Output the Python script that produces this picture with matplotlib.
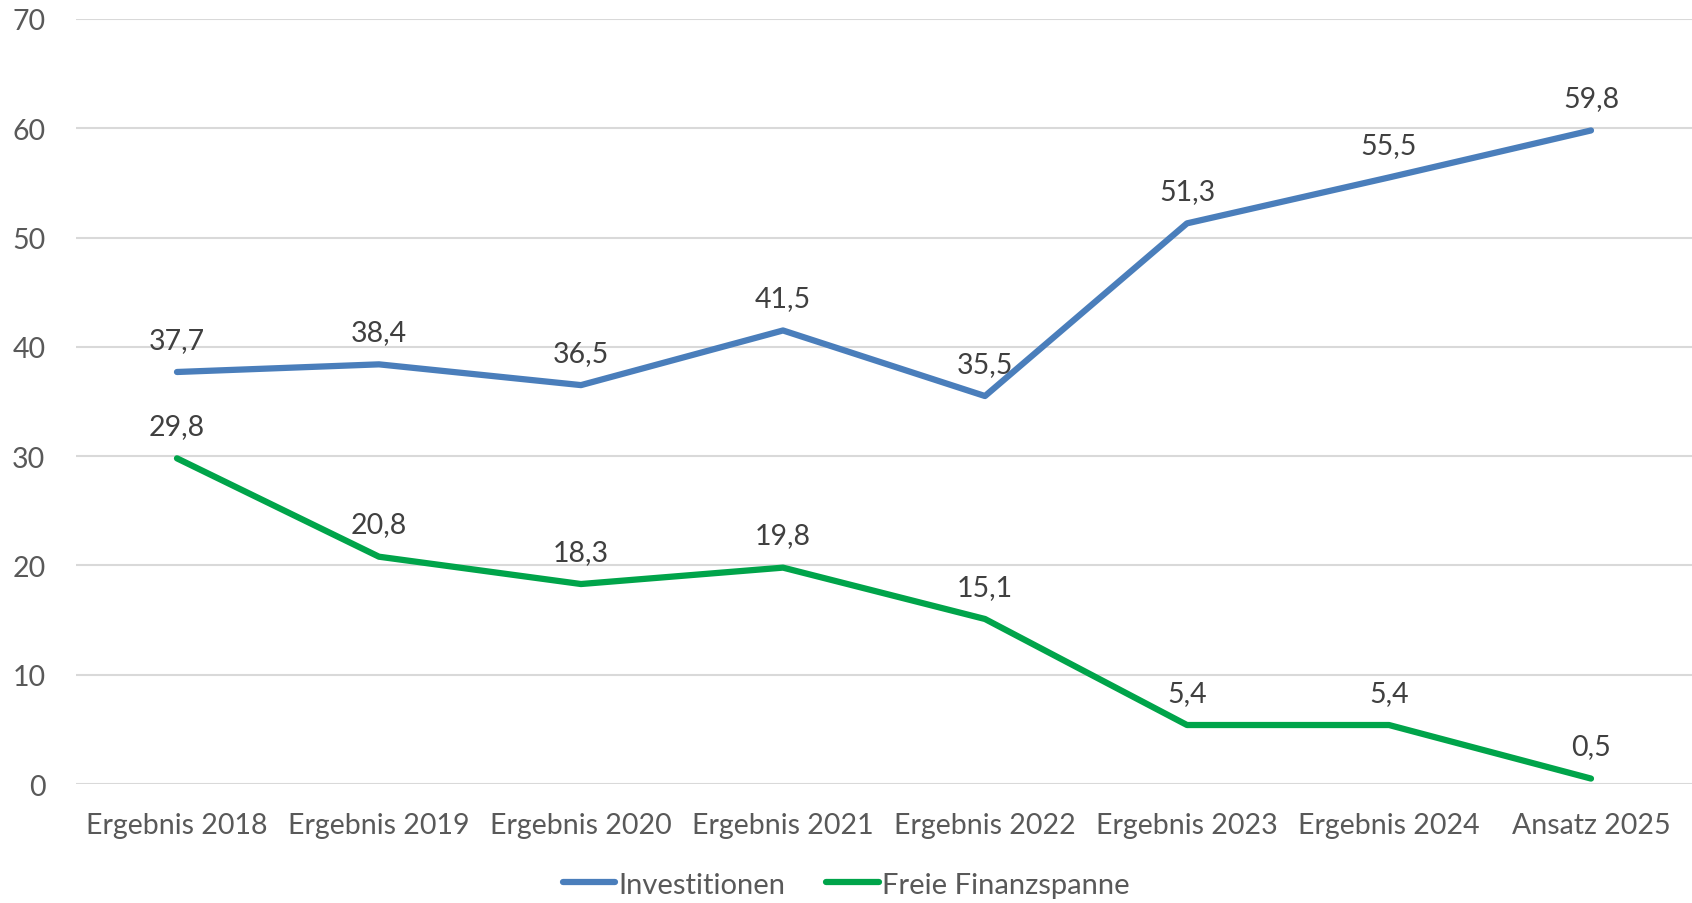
import matplotlib
matplotlib.use('Agg')
import matplotlib.pyplot as plt

plt.rcParams['font.family'] = ['Lato', 'DejaVu Sans']

categories = ['Ergebnis 2018', 'Ergebnis 2019', 'Ergebnis 2020', 'Ergebnis 2021',
              'Ergebnis 2022', 'Ergebnis 2023', 'Ergebnis 2024', 'Ansatz 2025']
investitionen = [37.7, 38.4, 36.5, 41.5, 35.5, 51.3, 55.5, 59.8]
finanzspanne = [29.8, 20.8, 18.3, 19.8, 15.1, 5.4, 5.4, 0.5]

blue = '#4a7ebb'
green = '#00a44a'

fig = plt.figure(figsize=(16.92, 9.04), dpi=100)
ax = fig.add_axes([0.0449, 0.1316, 0.9551, 0.8463])

x = range(len(categories))
ax.plot(x, investitionen, color=blue, lw=4.5, solid_capstyle='round', label='Investitionen')
ax.plot(x, finanzspanne, color=green, lw=4.5, solid_capstyle='round', label='Freie Finanzspanne')

for series in (investitionen, finanzspanne):
    for i, v in enumerate(series):
        ax.annotate(f'{v:.1f}'.replace('.', ','), (i, v), xytext=(0, 14),
                    textcoords='offset points', ha='center', va='bottom',
                    fontsize=20.5, color='#404040')

ax.set_xlim(-0.5, len(categories) - 0.5)
ax.set_ylim(0, 70)
ax.set_yticks(range(0, 71, 10))
ax.set_xticks(list(x))
ax.set_xticklabels(categories)
ax.grid(axis='y', color='#d9d9d9', lw=1.5)
ax.set_axisbelow(True)
for s in ax.spines.values():
    s.set_visible(False)
ax.tick_params(length=0, labelsize=20.5, labelcolor='#595959')
ax.tick_params(axis='y', pad=22)
ax.tick_params(axis='x', pad=20)

fig.legend(loc='lower center', bbox_to_anchor=(0.5, -0.023), ncol=2, frameon=False,
           fontsize=21, labelcolor='#595959', handlelength=1.8, handletextpad=0.1,
           columnspacing=1.4)

fig.savefig('out.png', dpi=100)
